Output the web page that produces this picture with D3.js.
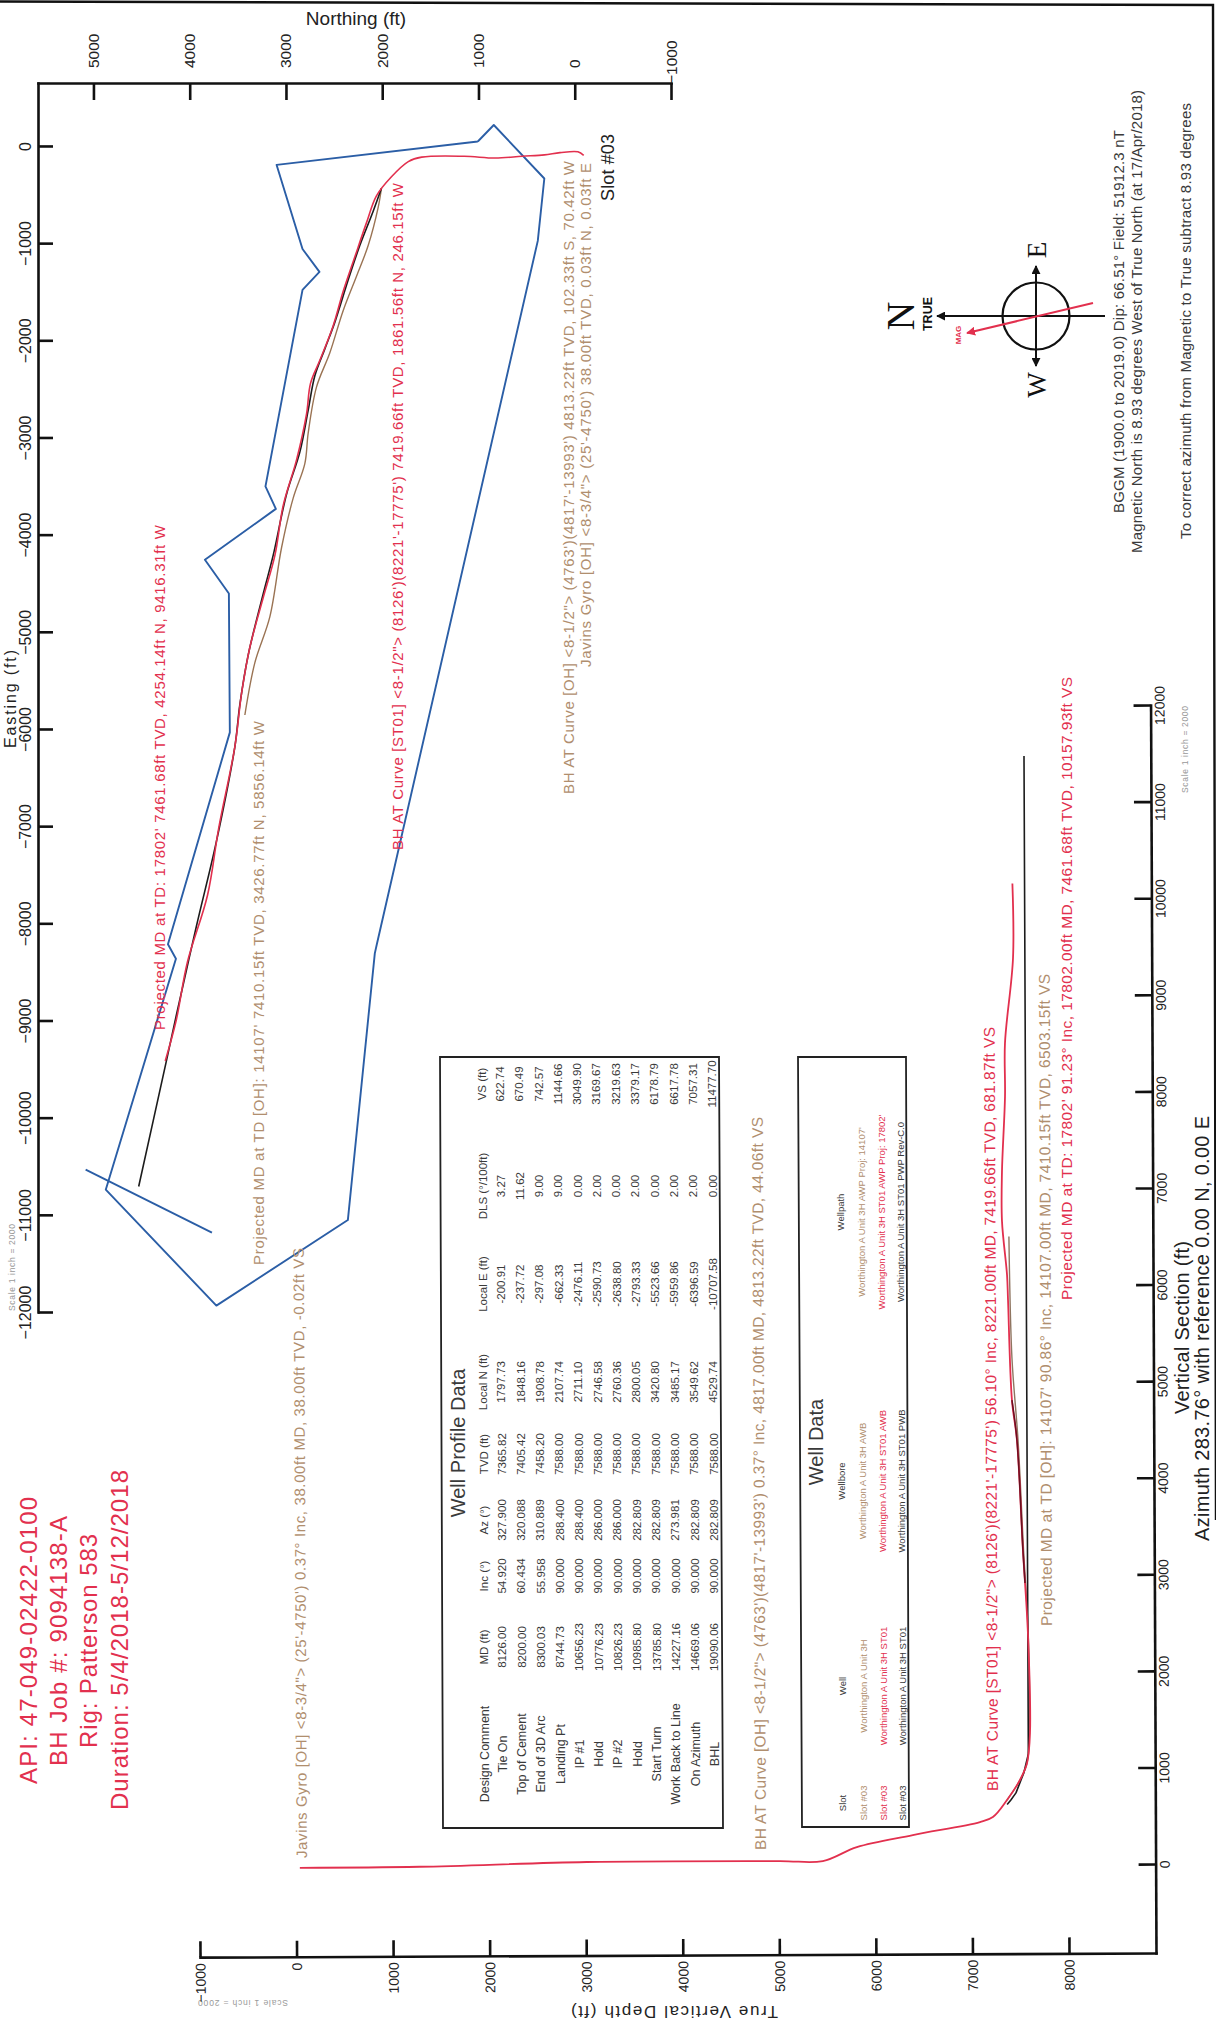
<!DOCTYPE html>
<html>
<head>
<meta charset="utf-8">
<title>Worthington A Unit 3H - survey plot</title>
<script src="https://cdn.jsdelivr.net/npm/d3@7"></script>
<style>
  html, body { margin: 0; padding: 0; background: #fff; }
  svg { display: block; font-family: "Liberation Sans", Arial, sans-serif; }
</style>
</head>
<body>
<div id="chart"></div>
<script>
// ── Axis ticks ───────────────────────────────────────────────────
const northTicks = [5000, 4000, 3000, 2000, 1000, 0, -1000];
const eastTicks = [0, -1000, -2000, -3000, -4000, -5000, -6000, -7000, -8000, -9000, -10000, -11000, -12000];
const tvdTicks = [-1000, 0, 1000, 2000, 3000, 4000, 5000, 6000, 7000, 8000];
const vsTicks = [0, 1000, 2000, 3000, 4000, 5000, 6000, 7000, 8000, 9000, 10000, 11000, 12000];

// ── Plan view, [northing, easting] in ft ─────────────────────────
const leaseBoundary = [
  [1007, 46], [841, 216], [316, -335], [384, -977], [2056, -8216], [2077, -8309],
  [2357, -11054], [3723, -11934], [4872, -10741], [4143, -8364], [4226, -8216],
  [3583, -6035], [3593, -4606], [3842, -4259], [3105, -3735], [3213, -3504],
  [2828, -1481], [2652, -1296], [2828, -1060], [3097, -195], [1007, 46],
];
const leaseLine = [[5081, -10535], [3769, -11183]];
const planST01 = [
  [-93, -96], [-33, -60], [153, -69], [315, -92], [547, -106], [825, -124], [1149, -106],
  [1590, -115], [1729, -161], [1904, -317], [2060, -513], [2163, -789], [2285, -1143],
  [2406, -1498], [2510, -1852], [2648, -2206], [2745, -2443], [2786, -2757], [2890, -3230],
  [3029, -3702], [3115, -4214], [3236, -4647], [3375, -5159], [3461, -5632], [3531, -6183],
  [3699, -7022], [3815, -7711], [4024, -8400], [4140, -8997], [4254, -9416],
];
const planOH = [
  [2008, -435], [2042, -632], [2146, -1025], [2267, -1340], [2406, -1695], [2544, -2128],
  [2683, -2482], [2769, -2954], [2804, -3269], [2925, -3624], [3046, -4135], [3167, -4844],
  [3323, -5317], [3427, -5856],
];
const planPWP = [
  [2008, -435], [2094, -671], [2233, -1025], [2354, -1380], [2492, -1813], [2596, -2088],
  [2700, -2364], [2769, -2718], [2856, -3151], [2994, -3584], [3133, -4214], [3236, -4608],
  [3392, -5238], [3479, -5750], [3531, -6183], [3723, -7160], [3931, -8033], [4140, -8951],
  [4246, -9433], [4530, -10708],
];

// ── Section view, [tvd, vs] in ft ────────────────────────────────
const sectionST01 = [
  [38, 0], [1279, 5], [3009, 47], [5009, 48], [5455, 46], [5808, 189], [6388, 311],
  [7084, 443], [7218, 494], [7365, 670], [7500, 876], [7574, 1052], [7606, 1362],
  [7589, 2397], [7541, 3257], [7484, 4396], [7434, 4809], [7398, 5846], [7389, 6104],
  [7339, 6663], [7341, 7171], [7376, 7957], [7378, 8506], [7465, 9385], [7462, 10158],
];
const sectionOH = [
  [7365, 670], [7500, 876], [7574, 1052], [7600, 1500], [7592, 2400], [7548, 3250],
  [7495, 4400], [7436, 5245], [7410, 6503],
];
const sectionPWP = [
  [7366, 623], [7405, 670], [7458, 743], [7540, 950], [7588, 1145], [7588, 3050], [7588, 11478],
];
const sectionOverlay = [[7561, 2915], [7541, 3257], [7484, 4396], [7434, 4809]];

// ── Tables ───────────────────────────────────────────────────────
const profileComment = ['Tie On', 'Top of Cement', 'End of 3D Arc', 'Landing Pt', 'IP #1', 'Hold', 'IP #2', 'Hold', 'Start Turn', 'Work Back to Line', 'On Azimuth', 'BHL'];
const profileMD = ['8126.00', '8200.00', '8300.03', '8744.73', '10656.23', '10776.23', '10826.23', '10985.80', '13785.80', '14227.16', '14669.06', '19090.06'];
const profileInc = ['54.920', '60.434', '55.958', '90.000', '90.000', '90.000', '90.000', '90.000', '90.000', '90.000', '90.000', '90.000'];
const profileAz = ['327.900', '320.088', '310.889', '288.400', '288.400', '286.000', '286.000', '282.809', '282.809', '273.981', '282.809', '282.809'];
const profileTVD = ['7365.82', '7405.42', '7458.20', '7588.00', '7588.00', '7588.00', '7588.00', '7588.00', '7588.00', '7588.00', '7588.00', '7588.00'];
const profileN = ['1797.73', '1848.16', '1908.78', '2107.74', '2711.10', '2746.58', '2760.36', '2800.05', '3420.80', '3485.17', '3549.62', '4529.74'];
const profileE = ['-200.91', '-237.72', '-297.08', '-662.33', '-2476.11', '-2590.73', '-2638.80', '-2793.33', '-5523.66', '-5959.86', '-6396.59', '-10707.58'];
const profileDLS = ['3.27', '11.62', '9.00', '9.00', '0.00', '2.00', '0.00', '2.00', '0.00', '2.00', '2.00', '0.00'];
const profileVS = ['622.74', '670.49', '742.57', '1144.66', '3049.90', '3169.67', '3219.63', '3379.17', '6178.79', '6617.78', '7057.31', '11477.70'];

const wellSlot = ['Slot #03', 'Slot #03', 'Slot #03'];
const wellName = ['Worthington A Unit 3H', 'Worthington A Unit 3H ST01', 'Worthington A Unit 3H ST01'];
const wellBore = ['Worthington A Unit 3H AWB', 'Worthington A Unit 3H ST01 AWB', 'Worthington A Unit 3H ST01 PWB'];
const wellPath = ["Worthington A Unit 3H AWP Proj: 14107'", "Worthington A Unit 3H ST01 AWP Proj: 17802'", 'Worthington A Unit 3H ST01 PWP Rev-C.0'];

const RED = '#e2304e';
const TAN = '#b08e6e';
const BLUE = '#2b5ea6';
const INK = '#111';
const GREY = '#3a3a3a';

const svg = d3.select('#chart').append('svg').attr('width', 1216).attr('height', 2020);
svg.append('rect').attr('width', 1216).attr('height', 2020).attr('fill', '#fff');

// Every label on the sheet is turned on its side, x is the baseline
function label(txt, x, y, opt = {}) {
  const t = svg.append('text')
    .attr('transform', `translate(${x},${y}) rotate(${opt.angle ?? -90})`)
    .attr('text-anchor', opt.anchor || 'start')
    .attr('font-size', opt.size || 15)
    .attr('font-weight', opt.weight || 'normal')
    .attr('font-family', opt.family || null)
    .attr('fill', opt.fill || GREY)
    .text(txt);
  if (opt.len) t.attr('textLength', opt.len);
  return t;
}

function styleAxis(g, size) {
  g.select('.domain').attr('stroke', INK).attr('stroke-width', 2.6).attr('stroke-linecap', 'square');
  g.selectAll('.tick line').attr('stroke', INK).attr('stroke-width', 2.6);
  g.selectAll('.tick text')
    .attr('x', null).attr('y', null).attr('dy', null)
    .attr('font-size', size).attr('font-family', '"Liberation Sans", Arial, sans-serif')
    .attr('fill', '#222');
}

// ── Sheet border ─────────────────────────────────────────────────
svg.append('path').attr('d', 'M0,1.5L1213,5L1216,1520').attr('fill', 'none').attr('stroke', '#111').attr('stroke-width', 2.4);

// ── Plan view ────────────────────────────────────────────────────
const xNorth = d3.scaleLinear().domain([5576, -1000]).range([38, 671]);
const yEast = d3.scaleLinear().domain([648, -12000]).range([83, 1312]);

const northAxis = svg.append('g').attr('transform', 'translate(0,83)')
  .call(d3.axisBottom(xNorth).tickValues(northTicks).tickFormat(d3.format('d')).tickSizeInner(17).tickSizeOuter(0));
styleAxis(northAxis, 15.5);
northAxis.selectAll('.tick text')
  .attr('text-anchor', 'start')
  .attr('transform', d => `translate(5,${d < 0 ? 1 : -15}) rotate(-90)`);

const eastAxis = svg.append('g').attr('transform', 'translate(38,0)')
  .call(d3.axisRight(yEast).tickValues(eastTicks).tickFormat(d3.format('d')).tickSizeInner(15).tickSizeOuter(0));
styleAxis(eastAxis, 16);
eastAxis.selectAll('.tick text')
  .attr('text-anchor', 'middle')
  .attr('transform', 'translate(-7,0) rotate(-90)');

const planLine = d3.line().x(d => xNorth(d[0])).y(d => yEast(d[1]));
const planCurve = d3.line().x(d => xNorth(d[0])).y(d => yEast(d[1])).curve(d3.curveCatmullRom.alpha(0.5));
const plan = svg.append('g').attr('fill', 'none').attr('stroke-linejoin', 'round');
plan.append('path').attr('d', planLine(leaseBoundary)).attr('stroke', BLUE).attr('stroke-width', 1.9);
plan.append('path').attr('d', planLine(leaseLine)).attr('stroke', BLUE).attr('stroke-width', 1.9);
plan.append('path').attr('d', planCurve(planOH)).attr('stroke', '#9a7353').attr('stroke-width', 1.4);
plan.append('path').attr('d', planCurve(planPWP)).attr('stroke', '#1c1c1c').attr('stroke-width', 1.6);
plan.append('path').attr('d', planCurve(planST01)).attr('stroke', RED).attr('stroke-width', 1.6);

label('Northing (ft)', 356, 25, { angle: 0, anchor: 'middle', size: 19, fill: '#222' });
label('Easting (ft)', 16, 748, { size: 16, fill: '#222', len: 98 });
label('Slot #03', 614, 201, { size: 18, fill: '#222', len: 67 });

label("Projected MD at TD: 17802'  7461.68ft TVD, 4254.14ft N, 9416.31ft W", 165, 1030, { fill: RED, len: 505 });
label('BH AT Curve [ST01] <8-1/2"> (8126\')(8221\'-17775\')  7419.66ft TVD, 1861.56ft N, 246.15ft W', 403, 850, { fill: RED, len: 667 });
label("Projected MD at TD [OH]: 14107'  7410.15ft TVD, 3426.77ft N, 5856.14ft W", 264, 1265, { fill: TAN, len: 544 });
label('BH AT Curve [OH] <8-1/2"> (4763\')(4817\'-13993\')  4813.22ft TVD, 102.33ft S, 70.42ft W', 574, 794, { fill: TAN, len: 633 });
label('Javins Gyro [OH] <8-3/4"> (25\'-4750\')  38.00ft TVD, 0.03ft N, 0.03ft E', 591, 667, { fill: TAN, len: 504 });

label('Scale 1 inch = 2000', 15, 1311, { size: 8.5, fill: '#999', len: 87 });
label('Scale 1 inch = 2000', 1188, 793, { size: 8.5, fill: '#999', len: 87 });
label('Scale 1 inch = 2000', 288, 2000, { angle: 180, size: 8.5, fill: '#999', len: 90 });

// ── Section view (the scan sits a quarter degree off square) ─────
const xTvd = d3.scaleLinear().domain([-1000, 8901]).range([200, 1156]);
const yVs = d3.scaleLinear().domain([-921, 12000]).range([1953, 705]);

const section = svg.append('g').attr('transform', 'rotate(-0.25,1156,1953)');

const tvdAxis = section.append('g').attr('transform', 'translate(0,1953)')
  .call(d3.axisTop(xTvd).tickValues(tvdTicks).tickFormat(d3.format('d')).tickSizeInner(16).tickSizeOuter(0));
styleAxis(tvdAxis, 14);
tvdAxis.selectAll('.tick text')
  .attr('text-anchor', 'end')
  .attr('transform', 'translate(5,6) rotate(-90)');

const vsAxis = section.append('g').attr('transform', 'translate(1156,0)')
  .call(d3.axisLeft(yVs).tickValues(vsTicks).tickFormat(d3.format('d')).tickSizeInner(17).tickSizeOuter(0));
styleAxis(vsAxis, 14);
vsAxis.selectAll('.tick text')
  .attr('text-anchor', 'middle')
  .attr('transform', 'translate(14,0) rotate(-90)');

const sectionLine = d3.line().x(d => xTvd(d[0])).y(d => yVs(d[1]));
const sectionCurve = d3.line().x(d => xTvd(d[0])).y(d => yVs(d[1])).curve(d3.curveCatmullRom.alpha(0.5));
const paths = section.append('g').attr('fill', 'none').attr('stroke-linejoin', 'round');
paths.append('path').attr('d', sectionCurve(sectionOH)).attr('stroke', '#8f7560').attr('stroke-width', 1.4);
paths.append('path').attr('d', sectionLine(sectionPWP)).attr('stroke', '#1c1c1c').attr('stroke-width', 1.6);
paths.append('path').attr('d', sectionCurve(sectionST01)).attr('stroke', RED).attr('stroke-width', 1.8);
paths.append('path').attr('d', sectionCurve(sectionOverlay)).attr('stroke', '#6a0f20').attr('stroke-width', 1.5);

label('Javins Gyro [OH] <8-3/4"> (25\'-4750\')  0.37° Inc, 38.00ft MD, 38.00ft TVD, -0.02ft VS', 307, 1858, { angle: -90.3, fill: TAN, len: 610 });
label('BH AT Curve [OH] <8-1/2"> (4763\')(4817\'-13993\')  0.37° Inc, 4817.00ft MD, 4813.22ft TVD, 44.06ft VS', 766, 1850, { angle: -90.25, fill: TAN, size: 15.5, len: 733 });
label('BH AT Curve [ST01] <8-1/2"> (8126\')(8221\'-17775\')  56.10° Inc, 8221.00ft MD, 7419.66ft TVD, 681.87ft VS', 998, 1791, { angle: -90.25, fill: RED, size: 15.5, len: 764 });
label("Projected MD at TD [OH]: 14107'  90.86° Inc, 14107.00ft MD, 7410.15ft TVD, 6503.15ft VS", 1052, 1626, { angle: -90.2, fill: TAN, size: 15.5, len: 652 });
label("Projected MD at TD: 17802'  91.23° Inc, 17802.00ft MD, 7461.68ft TVD, 10157.93ft VS", 1072, 1300, { fill: RED, size: 15.5, len: 623 });
label('Vertical Section (ft)', 1189, 1414, { size: 20, fill: '#222', len: 173 });
label('Azimuth 283.76° with reference 0.00 N, 0.00 E', 1209, 1541, { size: 20, fill: '#222', len: 425 });
label('True Vertical Depth (ft)', 778, 2006, { angle: 180, size: 17, fill: '#222', len: 207 });

// ── Job block ────────────────────────────────────────────────────
label('API: 47-049-02422-0100', 37, 1784, { size: 24, fill: RED, len: 287 });
label('BH Job #: 9094138-A', 67, 1766, { size: 24, fill: RED, len: 250 });
label('Rig: Patterson 583', 97, 1748, { size: 24, fill: RED, len: 214 });
label('Duration: 5/4/2018-5/12/2018', 128, 1810, { size: 24, fill: RED, len: 340 });

// ── Well Profile Data table ──────────────────────────────────────
svg.append('path').attr('d', 'M440,1057L719,1057L723,1828L443,1828Z').attr('fill', 'none').attr('stroke', '#222').attr('stroke-width', 1.8);
label('Well Profile Data', 465, 1443, { anchor: 'middle', size: 20 });

const profileColumns = [
  { head: 'Design Comment', cells: profileComment, y: 1754, size: 12.5 },
  { head: 'MD (ft)', cells: profileMD, y: 1647 },
  { head: 'Inc (°)', cells: profileInc, y: 1576 },
  { head: 'Az (°)', cells: profileAz, y: 1520 },
  { head: 'TVD (ft)', cells: profileTVD, y: 1454 },
  { head: 'Local N (ft)', cells: profileN, y: 1382 },
  { head: 'Local E (ft)', cells: profileE, y: 1284 },
  { head: 'DLS (°/100ft)', cells: profileDLS, y: 1186 },
  { head: 'VS (ft)', cells: profileVS, y: 1084 },
];
const rowX = d3.scaleLinear().domain([0, profileComment.length - 1]).range([504, 716]);
profileColumns.forEach(col => {
  // Columns lean with the box: shift the baseline by how far down the sheet we are
  const lean = (col.y - 1057) * 0.004;
  label(col.head, 486 + lean, col.y, { anchor: 'middle', size: col.size || 11.5 });
  col.cells.forEach((c, i) => label(c, rowX(i) + lean, col.y, { anchor: 'middle', size: col.size || 11.5 }));
});

// ── Well Data table ──────────────────────────────────────────────
svg.append('path').attr('d', 'M798,1057L906,1057L909,1827L802,1827Z').attr('fill', 'none').attr('stroke', '#222').attr('stroke-width', 1.8);
label('Well Data', 823, 1442, { anchor: 'middle', size: 20 });

const wellColumns = [
  { head: 'Slot', cells: wellSlot, y: 1803 },
  { head: 'Well', cells: wellName, y: 1686 },
  { head: 'Wellbore', cells: wellBore, y: 1481 },
  { head: 'Wellpath', cells: wellPath, y: 1212 },
];
const wellRowX = [864, 884, 903];
const wellRowFill = [TAN, RED, GREY];
wellColumns.forEach(col => {
  const lean = (col.y - 1057) * 0.004;
  label(col.head, 843 + lean, col.y, { anchor: 'middle', size: 9.5 });
  col.cells.forEach((c, i) => label(c, wellRowX[i] + lean, col.y, { anchor: 'middle', size: 9.5, fill: wellRowFill[i] }));
});

// ── North arrow ──────────────────────────────────────────────────
const defs = svg.append('defs');
[['headBlack', '#111'], ['headRed', RED]].forEach(([id, fill]) => {
  defs.append('marker').attr('id', id).attr('viewBox', '0 0 10 10').attr('refX', 9).attr('refY', 5)
    .attr('markerWidth', 9).attr('markerHeight', 9).attr('markerUnits', 'userSpaceOnUse')
    .attr('orient', 'auto-start-reverse')
    .append('path').attr('d', 'M0,0L10,5L0,10Z').attr('fill', fill);
});
const compass = svg.append('g').attr('fill', 'none');
compass.append('circle').attr('cx', 1036).attr('cy', 316).attr('r', 33.5).attr('stroke', '#111').attr('stroke-width', 2.2);
compass.append('line').attr('x1', 1105).attr('y1', 316).attr('x2', 937).attr('y2', 316)
  .attr('stroke', '#111').attr('stroke-width', 2).attr('marker-end', 'url(#headBlack)');
compass.append('line').attr('x1', 1036).attr('y1', 266).attr('x2', 1036).attr('y2', 366)
  .attr('stroke', '#111').attr('stroke-width', 2)
  .attr('marker-start', 'url(#headBlack)').attr('marker-end', 'url(#headBlack)');
compass.append('line').attr('x1', 1093).attr('y1', 303).attr('x2', 967).attr('y2', 333)
  .attr('stroke', RED).attr('stroke-width', 2).attr('marker-end', 'url(#headRed)');

label('N', 914, 316, { anchor: 'middle', size: 40, family: '"Liberation Serif", serif', fill: '#111' });
label('TRUE', 932, 314, { anchor: 'middle', size: 12.5, weight: 'bold', fill: '#111' });
label('MAG', 961, 335, { anchor: 'middle', size: 8, weight: 'bold', fill: RED });
label('E', 1046, 250, { anchor: 'middle', size: 27, family: '"Liberation Serif", serif', fill: '#111' });
label('W', 1046, 385, { anchor: 'middle', size: 27, family: '"Liberation Serif", serif', fill: '#111' });

label('BGGM (1900.0 to 2019.0) Dip: 66.51°  Field: 51912.3 nT', 1124, 513, { len: 383 });
label('Magnetic North is 8.93 degrees West of True North (at 17/Apr/2018)', 1142, 553, { len: 463 });
label('To correct azimuth from Magnetic to True subtract 8.93 degrees', 1191, 539, { len: 436 });
</script>
</body>
</html>
